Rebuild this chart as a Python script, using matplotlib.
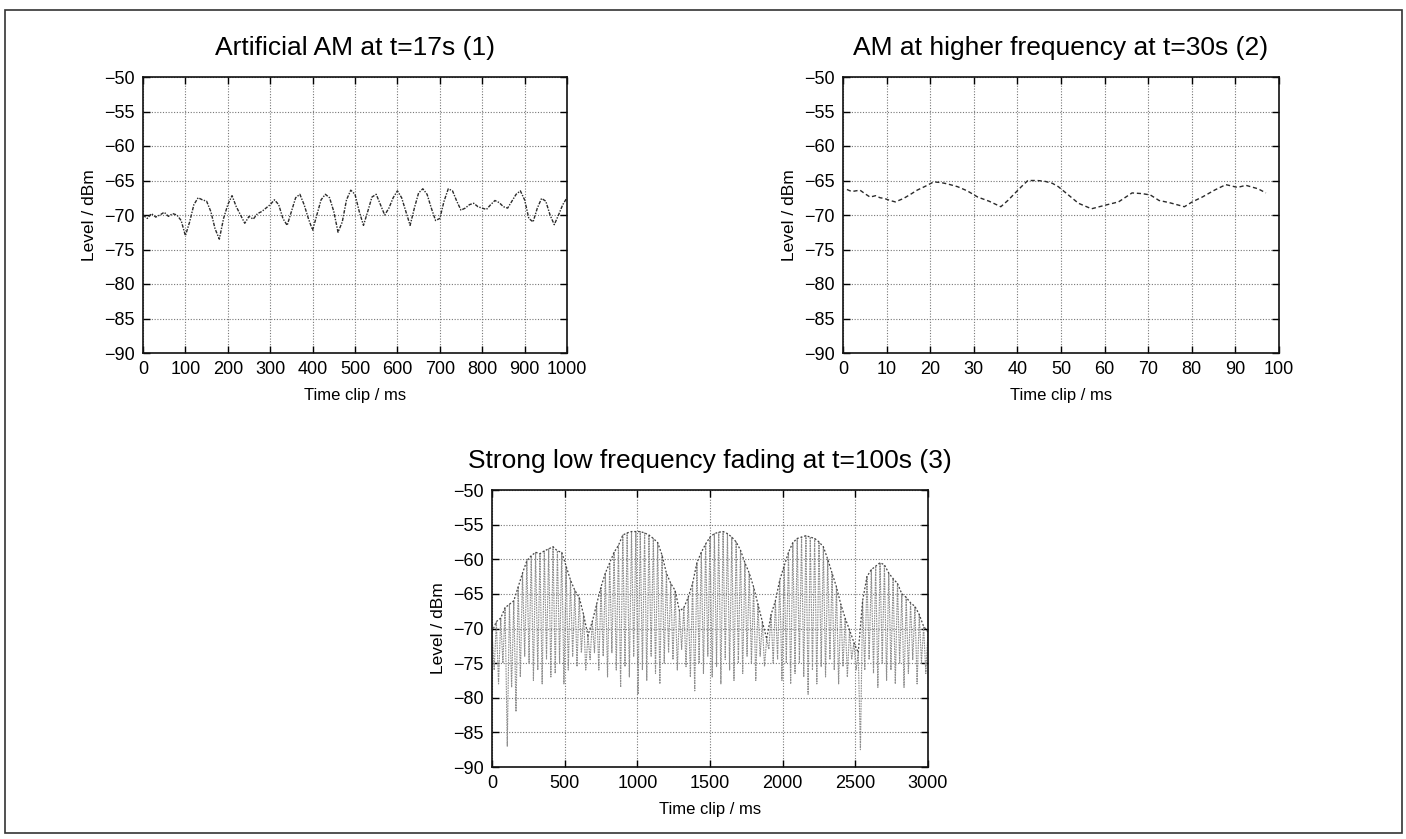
import matplotlib
matplotlib.use("Agg")
import matplotlib.pyplot as plt
from matplotlib.patches import Rectangle
import numpy as np

plt.rcParams["font.family"] = ["Liberation Sans", "DejaVu Sans"]

# panel 1: artificial AM, 10 ms steps
am_t = list(range(0, 1001, 10))
am_level = [
    -70.0, -70.5, -69.8, -70.3, -70.0, -69.6, -70.2, -69.8, -70.0, -70.8,
    -73.0, -71.0, -68.5, -67.5, -67.8, -68.0, -69.5, -72.0, -73.5, -70.5,
    -68.5, -67.2, -68.8, -70.0, -71.2, -70.2, -70.6, -69.8, -69.5, -69.0,
    -68.5, -67.8, -68.5, -70.5, -71.5, -69.5, -67.5, -67.0, -68.5, -70.5,
    -72.2, -70.0, -67.8, -67.0, -67.5, -69.5, -72.5, -71.0, -67.8, -66.4,
    -67.0, -69.5, -71.5, -69.5, -67.4, -67.0, -68.5, -70.0, -69.0, -67.5,
    -66.5, -67.5, -69.5, -71.5, -69.0, -66.8, -66.2, -67.0, -69.0, -70.8,
    -70.5, -68.0, -66.2, -66.5, -68.0, -69.3, -69.0, -68.5, -68.3, -68.8,
    -69.0, -69.2, -68.5, -67.9, -68.2, -68.8, -69.0, -68.0, -67.0, -66.5,
    -67.8, -70.5, -71.0, -69.0, -67.6, -68.0, -70.0, -71.4, -70.0, -68.5,
    -67.5,
]

# panel 2: AM at higher frequency
hf_t = [0.9, 2, 3.9, 5, 6.2, 7.5, 8.5, 9.5, 10.8, 12, 13.9, 15.5, 17, 19,
        20.8, 22.5, 24, 26.3, 28.5, 30.9, 33.5, 36.2, 37.8, 39.5, 40.9,
        42.4, 44.5, 46.2, 48, 49.4, 51.7, 54, 57, 60, 63.2, 66.3, 68.6,
        70.5, 72.5, 74.8, 78.3, 80.1, 82.4, 85.2, 87.8, 90.5, 92.4, 95.2, 97]
hf_level = [-66.3, -66.6, -66.4, -66.9, -67.4, -67.2, -67.5, -67.6, -67.9,
            -68.1, -67.6, -67.0, -66.4, -65.8, -65.2, -65.3, -65.5, -65.9,
            -66.5, -67.4, -68.0, -68.8, -67.9, -66.8, -65.9, -65.0, -65.0,
            -65.1, -65.4, -65.9, -67.1, -68.3, -69.1, -68.6, -68.1, -66.8,
            -66.9, -67.1, -67.9, -68.2, -68.8, -68.1, -67.4, -66.4, -65.6,
            -66.0, -65.7, -66.2, -66.8]

# panel 3: strong fading, peaks every 30 ms and troughs in between
fade_peaks = [
    -70.5, -69.0, -68.5, -67.0, -66.5, -66.0, -64.0, -62.0, -60.2, -59.5,
    -59.0, -59.2, -58.8, -58.5, -58.2, -58.8, -59.0, -61.0, -63.0, -64.5,
    -65.5, -68.0, -71.0, -69.0, -66.5, -64.0, -62.0, -60.5, -59.0, -58.0,
    -56.5, -56.2, -56.0, -56.0, -56.0, -56.2, -56.5, -57.0, -57.6, -59.4,
    -62.0, -63.5, -64.5, -67.5, -67.0, -65.5, -63.5, -60.5, -59.0, -57.8,
    -56.8, -56.3, -56.1, -56.0, -56.3, -56.8, -57.5, -58.7, -60.5, -62.0,
    -64.0, -66.5, -69.0, -71.5, -68.0, -66.0, -63.0, -61.0, -59.0, -57.6,
    -57.0, -56.8, -56.6, -56.8, -57.0, -57.5, -58.2, -60.0, -62.0, -64.0,
    -66.5, -68.5, -70.2, -72.0, -73.5, -66.0, -62.5, -61.5, -61.0, -60.5,
    -60.8, -62.0, -62.8, -63.5, -65.0, -65.5, -66.3, -66.8, -68.0, -69.7,
    -70.5,
]
fade_troughs = [
    -76.0, -78.0, -75.0, -87.0, -78.5, -82.0, -77.0, -74.0, -75.0, -77.5,
    -76.0, -78.0, -74.5, -77.0, -76.5, -75.0, -78.0, -76.0, -74.0, -75.5,
    -73.5, -76.0, -74.5, -73.5, -76.0, -74.0, -77.0, -73.5, -76.0, -78.5,
    -75.5, -77.0, -74.0, -79.5, -76.0, -77.5, -74.0, -76.5, -78.0, -75.0,
    -73.5, -74.5, -76.0, -73.0, -75.5, -77.0, -79.0, -75.0, -76.5, -74.0,
    -77.0, -75.5, -78.0, -74.5, -76.0, -77.5, -75.0, -76.5, -74.0, -75.0,
    -77.5, -74.0, -75.5, -73.0, -75.0, -74.5, -77.5, -75.0, -78.0, -76.5,
    -75.0, -77.0, -79.5, -76.0, -78.0, -75.5, -77.0, -74.5, -76.0, -78.0,
    -75.5, -77.0, -74.5, -76.0, -87.5, -76.0, -74.5, -76.5, -78.5, -75.0,
    -77.5, -76.0, -78.0, -75.0, -78.5, -76.5, -74.5, -78.0, -75.0, -76.5,
]
fade_step = 30


def style_axes(ax, xmax, xstep):
    ax.set_xlim(0, xmax)
    ax.set_ylim(-90, -50)
    ax.set_xticks(np.arange(0, xmax + 1, xstep))
    ax.set_yticks(np.arange(-90, -49, 5))
    ax.grid(True, linestyle=(0, (1, 1.5)), color="#777777", linewidth=0.8)
    ax.tick_params(direction="in", top=True, right=True, length=5,
                   width=1.0, labelsize=13, pad=6)
    for s in ax.spines.values():
        s.set_linewidth(1.2)
        s.set_color("#111111")
    ax.set_xlabel("Time clip / ms", fontsize=12, labelpad=7)
    ax.set_ylabel("Level / dBm", fontsize=12.5, labelpad=5)


fig = plt.figure(figsize=(14.06, 8.39), dpi=100)
fig.patches.append(Rectangle((5 / 1406, 1 - 833 / 839), 1397 / 1406, 823 / 839,
                             transform=fig.transFigure, fill=False,
                             edgecolor="#333333", linewidth=1.2))

ax1 = fig.add_axes([143 / 1406, 1 - 353 / 839, 424 / 1406, 276 / 839])
ax1.plot(am_t, am_level, color="#2a2a2a", linewidth=1.0,
         linestyle=(0, (2.5, 1, 1, 1)))
style_axes(ax1, 1000, 100)
ax1.set_title("Artificial AM at t=17s (1)", fontsize=19, pad=16)

ax2 = fig.add_axes([843 / 1406, 1 - 353 / 839, 436 / 1406, 276 / 839])
ax2.plot(hf_t, hf_level, color="#2a2a2a", linewidth=1.0,
         linestyle=(0, (3, 2)))
style_axes(ax2, 100, 10)
ax2.set_title("AM at higher frequency at t=30s (2)", fontsize=19, pad=16)

ax3 = fig.add_axes([492 / 1406, 1 - 767 / 839, 436 / 1406, 277 / 839])
pk_t = [i * fade_step for i in range(len(fade_peaks))]
tr_t = [i * fade_step + fade_step / 2 for i in range(len(fade_troughs))]
zz_t, zz_v = [], []
for i in range(len(fade_troughs)):
    zz_t += [pk_t[i], tr_t[i]]
    zz_v += [fade_peaks[i], fade_troughs[i]]
zz_t.append(pk_t[-1])
zz_v.append(fade_peaks[-1])
ax3.plot(zz_t, zz_v, color="#8f8f8f", linewidth=0.8,
         linestyle=(0, (1.5, 0.8)))
ax3.plot(pk_t, fade_peaks, color="#444444", linewidth=0.9,
         linestyle=(0, (1.5, 1.5)))
style_axes(ax3, 3000, 500)
ax3.set_title("Strong low frequency fading at t=100s (3)", fontsize=19, pad=16)

fig.savefig("out.png", dpi=100)
